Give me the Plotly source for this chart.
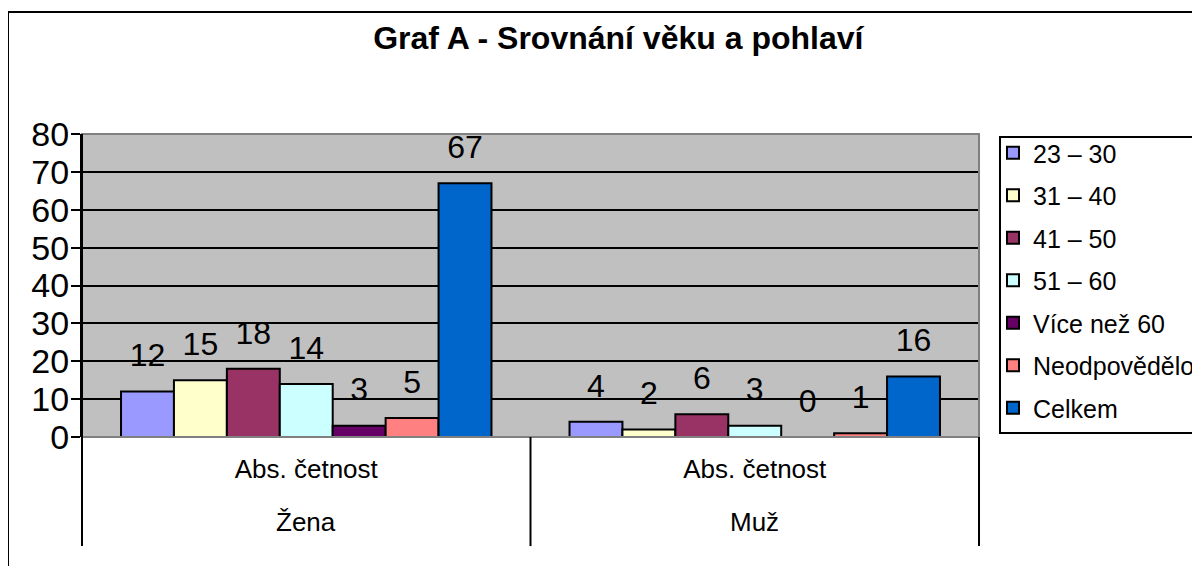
import plotly.graph_objects as go

# chart data
measure = "Abs. četnost"
groups = ["Žena", "Muž"]
series_names = ["23 – 30", "31 – 40", "41 – 50", "51 – 60", "Více než 60", "Neodpovědělo", "Celkem"]
zena = [12, 15, 18, 14, 3, 5, 67]
muz = [4, 2, 6, 3, 0, 1, 16]
colors = ["#9999FF", "#FFFFCC", "#993366", "#CCFFFF", "#660066", "#FF8080", "#0066CC"]
y_ticks = [0, 10, 20, 30, 40, 50, 60, 70, 80]

FONT = "Liberation Sans, Arial, sans-serif"

fig = go.Figure()

for i, name in enumerate(series_names):
    vals = [zena[i], muz[i]]
    fig.add_trace(go.Bar(
        x=groups,
        y=vals,
        name=name,
        legendgroup=name,
        marker=dict(color=colors[i], line=dict(color="black", width=2)),
        cliponaxis=False,
    ))

# data labels, grouped the same way as the bars so they sit above them
for i, name in enumerate(series_names):
    vals = [zena[i], muz[i]]
    fig.add_trace(go.Scatter(
        x=groups,
        y=vals,
        mode="markers+text",
        text=vals,
        textposition="top center",
        marker=dict(size=26, opacity=0),
        textfont=dict(family=FONT, size=32, color="black"),
        showlegend=False,
        hoverinfo="skip",
        cliponaxis=False,
    ))

# page body has an 8px margin, so the figure is drawn 8px smaller
fig.update_layout(
    width=1192,
    height=558,
    barmode="group",
    bargap=0.174,
    bargroupgap=0,
    scattermode="group",
    scattergap=0.174,
    paper_bgcolor="white",
    plot_bgcolor="#C0C0C0",
    margin=dict(l=74, r=221, t=126, b=129, autoexpand=False),
    font=dict(family=FONT, size=25, color="black"),
    title=dict(
        text="<b>Graf A - Srovnání věku a pohlaví</b>",
        x=0.512, xref="container", xanchor="center",
        y=0.946, yref="container", yanchor="middle",
        font=dict(family=FONT, size=32, color="black"),
    ),
    legend=dict(
        x=1.0156, xanchor="left",
        y=1.0132, yanchor="top",
        borderwidth=0,
        bgcolor="rgba(0,0,0,0)",
        font=dict(family=FONT, size=25, color="black"),
        tracegroupgap=7,
        itemwidth=30,
        maxheight=500,
    ),
    showlegend=True,
)

fig.update_yaxes(
    range=[0, 80],
    tickvals=y_ticks,
    showgrid=True, gridcolor="black", gridwidth=1.5,
    zeroline=False,
    showline=True, linecolor="black", linewidth=2,
    ticks="outside", ticklen=9, tickcolor="black", tickwidth=2,
    tickfont=dict(family=FONT, size=34, color="black"),
    ticklabelstandoff=-5,
)

fig.update_xaxes(
    showgrid=False,
    showline=False,
    ticks="",
    tickvals=groups,
    ticktext=[measure] * len(groups),
    tickfont=dict(family=FONT, size=26, color="black"),
    ticklabelstandoff=14,
)

# second level of the category axis
for g in groups:
    fig.add_annotation(x=g, xref="x", y=-0.28, yref="paper", text=g, showarrow=False,
                       font=dict(family=FONT, size=26, color="black"), yanchor="middle")

# plot frame, category separators, legend box, outer chart border
fig.add_shape(type="rect", xref="paper", yref="paper", x0=0, x1=1, y0=0, y1=1,
              line=dict(color="#808080", width=2), layer="above")
for xs in [0, 0.5, 1]:
    fig.add_shape(type="line", xref="paper", yref="paper", x0=xs, x1=xs, y0=0, y1=-0.36,
                  line=dict(color="black", width=2))
fig.add_shape(type="line", xref="paper", yref="paper", x0=0, x1=0, y0=0, y1=1,
              line=dict(color="black", width=2), layer="above")
fig.add_shape(type="rect", xref="paper", yref="paper", x0=1.0234, x1=1.2452, y0=0.0132, y1=0.990,
              line=dict(color="black", width=2), layer="below")
fig.add_shape(type="rect", xref="paper", yref="paper", x0=-0.0825, x1=1.4, y0=-0.6, y1=1.4026,
              line=dict(color="black", width=2), layer="below")

fig.write_html("out.html")
